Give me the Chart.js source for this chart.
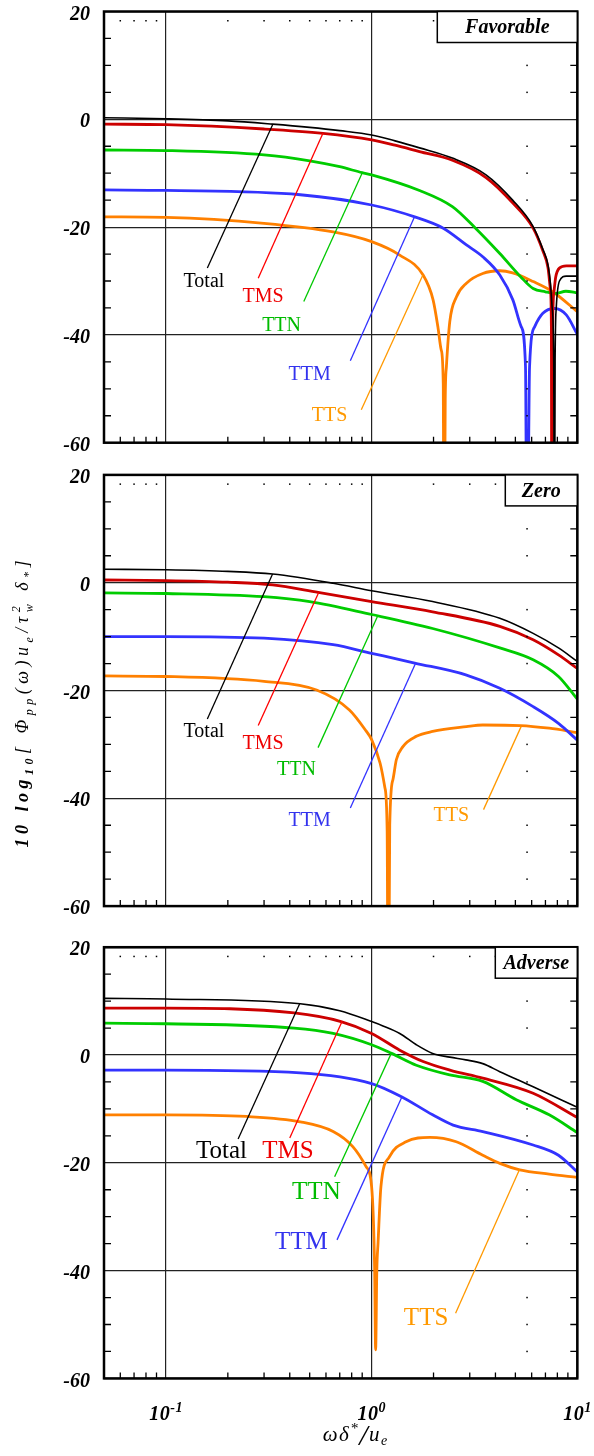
<!DOCTYPE html>
<html>
<head>
<meta charset="utf-8">
<script src="https://cdn.jsdelivr.net/npm/chart.js@4.4.0/dist/chart.umd.min.js"></script>
<style>
  body { margin: 0; background: #fff; }
  #wrap { position: relative; width: 594px; height: 1456px; }
  canvas { position: absolute; left: 0; }
</style>
</head>
<body>
<div id="wrap">
  <canvas id="fav" width="594" height="460" style="top:0px"></canvas>
  <canvas id="zero" width="594" height="470" style="top:460px"></canvas>
  <canvas id="adv" width="594" height="526" style="top:930px"></canvas>
</div>
<script>
// ---- data (x = omega*delta/u_e, y = dB) ----
const names = ['Total', 'TMS', 'TTN', 'TTM', 'TTS'];

// Favorable
const favTotalX = [0.05, 0.1, 0.2, 0.33, 0.5, 0.7, 1.0, 1.3, 1.71, 2.47, 3.6, 4.85, 6.08, 6.8, 7.2, 7.4, 7.55, 7.68, 7.74, 7.8, 7.9, 8.19, 8.84, 10];
const favTotalY = [0.3, 0.1, -0.3, -0.9, -1.5, -2.1, -2.9, -4.0, -5.3, -7.2, -10.3, -15.0, -19.8, -24.1, -27.0, -30.5, -35, -45, -90, -45, -35, -30.0, -29.1, -29.1];
const favTmsX = [0.05, 0.1, 0.3, 0.58, 1.0, 1.3, 1.71, 2.47, 3.6, 4.85, 6.08, 6.8, 7.2, 7.4, 7.48, 7.52, 7.58, 7.7, 7.85, 8.19, 8.84, 10];
const favTmsY = [-0.9, -1.0, -1.8, -2.6, -3.8, -4.8, -6.0, -7.6, -10.8, -15.5, -20.1, -24.4, -27.5, -31.5, -38, -90, -40, -32, -29.3, -27.6, -27.2, -27.2];
const favTtnX = [0.05, 0.1, 0.3, 0.5, 0.7, 0.9, 1.0, 1.71, 2.47, 3.2, 4.2, 5.3, 6.1, 7.0, 7.85, 8.8, 10];
const favTtnY = [-5.7, -5.8, -6.6, -7.7, -8.8, -9.9, -10.3, -13.2, -16.2, -20.2, -24.9, -29.2, -31.4, -32.0, -32.3, -31.9, -32.2];
const favTtmX = [0.05, 0.1, 0.45, 1.0, 1.62, 2.23, 2.89, 3.47, 4.2, 4.86, 5.34, 5.6, 5.7, 5.86, 6.2, 6.8, 7.76, 8.84, 10];
const favTtmY = [-13.1, -13.2, -14.0, -15.9, -18.1, -20.2, -23.3, -25.5, -28.9, -33.5, -38.5, -45.9, -90, -45.9, -38.5, -36.0, -35.1, -36.3, -39.9];
const favTtsX = [0.05, 0.1, 0.3, 0.65, 1.0, 1.37, 1.78, 1.99, 2.1, 2.18, 2.23, 2.25, 2.28, 2.31, 2.4, 2.58, 2.89, 3.47, 4.2, 4.85, 6.1, 7.6, 10];
const favTtsY = [-18.1, -18.2, -19.3, -20.9, -22.7, -25.2, -28.9, -33.5, -38.5, -42.8, -49, -90, -52, -45.9, -37.5, -33.0, -30.4, -28.6, -28.1, -28.5, -30.1, -32.0, -35.7];

// Zero
const zeroTotalX = [0.05, 0.1, 0.2, 0.33, 0.65, 1.0, 1.98, 4.2, 6.1, 8.1, 10];
const zeroTotalY = [2.5, 2.4, 2.1, 1.6, -0.1, -1.5, -3.5, -6.6, -9.4, -12.1, -14.6];
const zeroTmsX = [0.05, 0.1, 0.2, 0.33, 0.55, 1.0, 1.98, 4.2, 6.1, 8.1, 10];
const zeroTmsY = [0.5, 0.4, 0.1, -0.4, -1.8, -3.5, -5.4, -8.1, -10.6, -13.4, -15.9];
const zeroTtnX = [0.05, 0.1, 0.3, 0.5, 1.0, 1.98, 4.2, 6.1, 8.1, 10];
const zeroTtnY = [-1.9, -2.0, -2.6, -3.5, -5.9, -8.5, -12.1, -14.3, -17.4, -21.6];
const zeroTtmX = [0.05, 0.1, 0.3, 0.65, 1.0, 1.62, 2.87, 4.2, 6.1, 8.1, 10];
const zeroTtmY = [-10.0, -10.0, -10.3, -11.5, -13.1, -14.9, -17.1, -19.6, -23.0, -26.1, -29.2];
const zeroTtsX = [0.05, 0.1, 0.3, 0.54, 0.78, 0.94, 1.0, 1.1, 1.16, 1.19, 1.205, 1.225, 1.27, 1.32, 1.42, 1.65, 1.98, 2.89, 3.47, 5.3, 7.3, 10];
const zeroTtsY = [-17.3, -17.4, -18.3, -19.9, -23.6, -27.5, -29.1, -33.5, -38, -46, -90, -45, -36.5, -32.8, -30.4, -28.5, -27.6, -26.7, -26.4, -26.5, -27.0, -27.8];

// Adverse
const advTotalX = [0.05, 0.1, 0.45, 0.7, 1.0, 1.135, 1.37, 1.65, 1.98, 2.4, 2.87, 3.47, 4.2, 6.1, 10];
const advTotalY = [10.5, 10.4, 9.5, 8.2, 6.2, 5.4, 4.0, 1.9, 0.3, -0.4, -0.9, -1.6, -3.1, -5.9, -9.7];
const advTmsX = [0.05, 0.1, 0.42, 0.71, 1.0, 1.37, 1.78, 2.4, 3.47, 6.1, 10];
const advTmsY = [8.7, 8.7, 7.8, 6.2, 4.0, 0.9, -1.2, -2.8, -4.3, -7.1, -11.6];
const advTtnX = [0.05, 0.1, 0.42, 0.65, 1.0, 1.25, 1.65, 2.4, 3.47, 5.05, 7.3, 10];
const advTtnY = [5.9, 5.8, 5.0, 4.0, 1.9, 0.3, -1.9, -3.7, -4.9, -8.3, -11.1, -14.4];
const advTtmX = [0.05, 0.1, 0.45, 1.0, 1.39, 1.98, 2.49, 3.47, 6.1, 8.1, 10];
const advTtmY = [-2.8, -2.8, -3.3, -5.3, -7.7, -11.1, -13.0, -14.2, -16.7, -18.6, -21.7];
const advTtsX = [0.05, 0.1, 0.246, 0.45, 0.65, 0.81, 0.94, 1.0, 1.034, 1.046, 1.06, 1.075, 1.11, 1.22, 1.47, 1.92, 2.58, 3.47, 4.2, 5.25, 7.3, 10];
const advTtsY = [-11.1, -11.1, -11.4, -12.4, -14.2, -17.0, -20.7, -24.4, -39.3, -54.7, -40, -34.8, -24.4, -18.9, -16.1, -15.3, -16.1, -18.6, -20.1, -21.3, -22.1, -22.7];

// leader lines [x1, y1, x2, y2] and label anchors, order as in names
const favLeaders = [[0.331, -0.9, 0.159, -27.6], [0.58, -2.6, 0.281, -29.5], [0.901, -9.9, 0.468, -33.8], [1.617, -18.1, 0.788, -44.8], [1.775, -28.9, 0.891, -53.9]];
const favLabelX = [0.153, 0.297, 0.365, 0.50, 0.625];
const favLabelY = [-30.1, -33.0, -38.3, -47.4, -55.0];
const zeroLeaders = [[0.33, 1.6, 0.159, -25.3], [0.553, -1.8, 0.281, -26.5], [1.066, -6.3, 0.549, -30.6], [1.63, -15.1, 0.788, -41.8], [5.33, -26.7, 3.5, -42.1]];
const zeroLabelX = [0.153, 0.297, 0.431, 0.50, 2.44];
const zeroLabelY = [-27.7, -29.9, -34.7, -44.1, -43.2];
const advLeaders = [[0.447, 9.5, 0.2244, -15.6], [0.718, 6.2, 0.40, -15.4], [1.246, 0.3, 0.661, -22.6], [1.403, -7.8, 0.679, -34.3], [5.23, -21.3, 2.56, -47.9]];
const advLabelX = [0.1863, 0.392, 0.539, 0.456, 1.84];
const advLabelY = [-17.9, -17.9, -25.5, -34.8, -48.9];

const xTickValues = [0.1, 1, 10];
const xTickExps = ['-1', '0', '1'];

// ---- styling ----
const F = '"Liberation Serif", "Times New Roman", serif';
const curveColors = ['#000000', '#cc0000', '#00cc00', '#3333ff', '#ff8000'];
const curveWidths = [1.6, 2.8, 2.8, 2.8, 2.8];
const leaderColors = ['#000000', '#ff0000', '#00c800', '#3333ff', '#ff9900'];
const textColors = ['#000000', '#ee0000', '#00bb00', '#3333ee', '#ff9900'];

function curve(xs, ys, i) {
    return {
        data: xs.map((x, k) => ({ x: x, y: ys[k] })),
        borderColor: curveColors[i],
        borderWidth: curveWidths[i],
        pointRadius: 0,
        fill: false,
        cubicInterpolationMode: 'monotone'
    };
}

function leader(seg, i) {
    return {
        data: [{ x: seg[0], y: seg[1] }, { x: seg[2], y: seg[3] }],
        borderColor: leaderColors[i],
        borderWidth: 1.3,
        pointRadius: 0,
        tension: 0
    };
}

function isDecade(v) {
    const l = Math.log10(v);
    return Math.abs(l - Math.round(l)) < 1e-6;
}

// text runs with sub/superscripts, drawn one char at a time so we can space them out
function drawRich(ctx, x, y, segs, sp) {
    segs.forEach(s => {
        ctx.font = s.f;
        const x0 = x;
        for (const ch of s.t) {
            ctx.fillText(ch, x, y + (s.dy || 0));
            x += ctx.measureText(ch).width + sp;
        }
        if (s.stack) x = x0;
    });
}
function richWidth(ctx, segs, sp) {
    let w = 0;
    segs.forEach(s => {
        ctx.font = s.f;
        if (s.stack) return;
        for (const ch of s.t) w += ctx.measureText(ch).width + sp;
    });
    return w - sp;
}

const panelDecor = {
    id: 'panelDecor',
    afterDatasetsDraw(chart, args, opts) {
        const ctx = chart.ctx;
        const a = chart.chartArea;
        const xs = chart.scales.x, ys = chart.scales.y;
        ctx.save();

        const minorX = [];
        [0.01, 0.1, 1].forEach(d => {
            for (let k = 2; k <= 9; k++) {
                const v = k * d;
                if (v > 0.05 + 1e-9 && v < 10) minorX.push(v);
            }
        });
        const minorY = [];
        for (let v = -55; v < 20; v += 5) if (v % 20 !== 0) minorY.push(v);

        // inward minor ticks on the frame
        ctx.strokeStyle = '#000';
        ctx.lineWidth = 1.3;
        ctx.beginPath();
        minorY.forEach(v => {
            const py = ys.getPixelForValue(v);
            ctx.moveTo(a.left, py); ctx.lineTo(a.left + 7, py);
            ctx.moveTo(a.right - 7, py); ctx.lineTo(a.right, py);
        });
        minorX.forEach(v => {
            const px = xs.getPixelForValue(v);
            ctx.moveTo(px, a.bottom); ctx.lineTo(px, a.bottom - 6);
        });
        ctx.stroke();

        // small dots near top and right edge
        ctx.fillStyle = '#000';
        minorX.forEach(v => {
            const px = xs.getPixelForValue(v);
            ctx.fillRect(px - 0.75, a.top + 8.5, 1.5, 1.5);
        });
        minorY.forEach(v => {
            const py = ys.getPixelForValue(v);
            ctx.fillRect(a.right - 51, py - 0.75, 1.5, 1.5);
        });

        // curve labels
        ctx.textAlign = 'center';
        ctx.textBaseline = 'middle';
        ctx.font = opts.labelSize + 'px ' + F;
        names.forEach((n, i) => {
            ctx.fillStyle = textColors[i];
            ctx.fillText(n, xs.getPixelForValue(opts.labelX[i]), ys.getPixelForValue(opts.labelY[i]));
        });

        // frame
        ctx.strokeStyle = '#000';
        ctx.lineWidth = 2.5;
        ctx.strokeRect(a.left, a.top, a.right - a.left, a.bottom - a.top);

        // panel name box
        const bw = opts.boxWidth, bh = 31;
        ctx.fillStyle = '#fff';
        ctx.fillRect(a.right - bw, a.top, bw, bh);
        ctx.lineWidth = 1.5;
        ctx.strokeRect(a.right - bw, a.top, bw, bh);
        ctx.fillStyle = '#000';
        ctx.font = 'italic bold 20px ' + F;
        ctx.fillText(opts.box, a.right - bw / 2, a.top + bh / 2 + 1);

        ctx.textAlign = 'left';
        ctx.textBaseline = 'alphabetic';

        // y axis title (middle panel)
        if (opts.yTitle) {
            const segs = [
                { t: '10 log', f: 'italic bold 18px ' + F },
                { t: '10', f: 'italic bold 12px ' + F, dy: 5 },
                { t: '[ Φ', f: 'italic 18px ' + F },
                { t: 'pp', f: 'italic 12px ' + F, dy: 5 },
                { t: '(ω)u', f: 'italic 18px ' + F },
                { t: 'e', f: 'italic 12px ' + F, dy: 5 },
                { t: '/τ', f: 'italic 18px ' + F },
                { t: '2', f: 'italic 12px ' + F, dy: -8, stack: true },
                { t: 'w', f: 'italic 12px ' + F, dy: 5 },
                { t: ' δ', f: 'italic 18px ' + F },
                { t: '*', f: 'italic 12px ' + F, dy: 4 },
                { t: ']', f: 'italic 18px ' + F }
            ];
            ctx.save();
            ctx.translate(28, 244);
            ctx.rotate(-Math.PI / 2);
            const w = richWidth(ctx, segs, 4.5);
            drawRich(ctx, -w / 2, 0, segs, 4.5);
            ctx.restore();
        }

        // x tick labels and x title (bottom panel)
        if (opts.xTitle) {
            xTickValues.forEach((v, i) => {
                const segs = [
                    { t: '10', f: 'italic bold 20px ' + F },
                    { t: xTickExps[i], f: 'italic bold 14px ' + F, dy: -8 }
                ];
                const w = richWidth(ctx, segs, 0.5);
                drawRich(ctx, xs.getPixelForValue(v) - w / 2, a.bottom + 42, segs, 0.5);
            });
            const t = [
                { t: 'ωδ', f: 'italic 21px ' + F },
                { t: '*', f: 'italic 15px ' + F, dy: -8 },
                { t: '/', f: 'italic 30px ' + F, dy: 4 },
                { t: 'u', f: 'italic 21px ' + F },
                { t: 'e', f: 'italic 14px ' + F, dy: 4 }
            ];
            const tw = richWidth(ctx, t, 1.5);
            drawRich(ctx, 355 - tw / 2, a.bottom + 63, t, 1.5);
        }
        ctx.restore();
    }
};

function makePanel(id, xsList, ysList, leaders, labelX, labelY, padTop, padBottom, extra) {
    const datasets = [];
    leaders.forEach((s, i) => datasets.push(leader(s, i)));
    xsList.forEach((xs, i) => datasets.push(curve(xs, ysList[i], i)));
    return new Chart(document.getElementById(id), {
        type: 'line',
        data: { datasets: datasets },
        plugins: [panelDecor],
        options: {
            responsive: false,
            animation: false,
            events: [],
            layout: { padding: { left: 0, right: 16.7, top: padTop, bottom: padBottom } },
            plugins: {
                legend: { display: false },
                tooltip: { enabled: false },
                panelDecor: Object.assign({ labelX: labelX, labelY: labelY }, extra)
            },
            scales: {
                x: {
                    type: 'logarithmic',
                    min: 0.05,
                    max: 10,
                    ticks: { display: false },
                    grid: {
                        drawTicks: false,
                        lineWidth: 1.2,
                        color: c => (c.tick && isDecade(c.tick.value)) ? '#222' : 'rgba(0,0,0,0)'
                    },
                    border: { display: false },
                    afterFit: s => { s.height = 0; s.paddingLeft = 0; s.paddingRight = 0; }
                },
                y: {
                    min: -60,
                    max: 20,
                    ticks: {
                        stepSize: 5,
                        autoSkip: false,
                        padding: 14,
                        labelOffset: 3,
                        color: '#000',
                        font: { family: F, size: 20, style: 'italic', weight: 'bold' },
                        callback: v => (v % 20 === 0 ? String(v) : '')
                    },
                    grid: {
                        drawTicks: false,
                        lineWidth: 1.2,
                        color: c => (c.tick && c.tick.value % 20 === 0) ? '#222' : 'rgba(0,0,0,0)'
                    },
                    border: { display: false },
                    afterFit: s => { s.width = 104; s.paddingTop = 0; s.paddingBottom = 0; }
                }
            }
        }
    });
}

makePanel('fav',
    [favTotalX, favTmsX, favTtnX, favTtmX, favTtsX],
    [favTotalY, favTmsY, favTtnY, favTtmY, favTtsY],
    favLeaders, favLabelX, favLabelY, 11.5, 17.3,
    { labelSize: 20, box: 'Favorable', boxWidth: 140 });

makePanel('zero',
    [zeroTotalX, zeroTmsX, zeroTtnX, zeroTtmX, zeroTtsX],
    [zeroTotalY, zeroTmsY, zeroTtnY, zeroTtmY, zeroTtsY],
    zeroLeaders, zeroLabelX, zeroLabelY, 14.9, 23.9,
    { labelSize: 20, box: 'Zero', boxWidth: 72, yTitle: true });

makePanel('adv',
    [advTotalX, advTmsX, advTtnX, advTtmX, advTtsX],
    [advTotalY, advTmsY, advTtnY, advTtmY, advTtsY],
    advLeaders, advLabelX, advLabelY, 17.2, 77.6,
    { labelSize: 25, box: 'Adverse', boxWidth: 82, xTitle: true });
</script>
</body>
</html>
